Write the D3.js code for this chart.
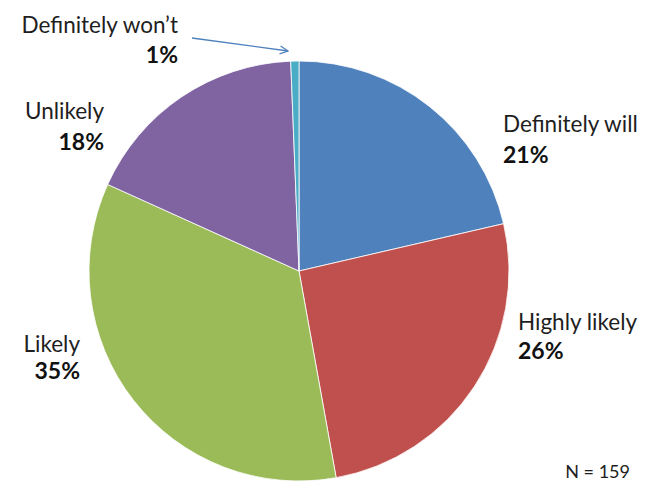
<!DOCTYPE html>
<html lang="en">
<head>
  <meta charset="utf-8">
  <title>Pie</title>
  <script src="https://d3js.org/d3.v7.min.js"></script>
  <style>
    body { margin: 0; background: #fff; }
  </style>
</head>
<body>
  <script type="text/javascript">
  // data, N = 159 respondents
  var categories = ["Definitely will", "Highly likely", "Likely", "Unlikely", "Definitely won\u2019t"];
  var counts = [34, 41, 55, 28, 1];
  var percentLabels = ["21%", "26%", "35%", "18%", "1%"];
  var colors = ["#4F81BD", "#C0504D", "#9BBB59", "#8064A2", "#4BACC6"];

  var w = 648;
  var h = 489;
  var cx = 299, cy = 271, r = 210;

  var svg = d3.select("body")
    .append("svg")
    .attr("width", w)
    .attr("height", h);

  var pie = d3.pie().sort(null).value(function(d){ return d; });
  var arc = d3.arc().innerRadius(0).outerRadius(r);

  var g = svg.append("g").attr("transform", "translate(" + cx + "," + cy + ")");
  g.selectAll("path")
    .data(pie(counts))
    .enter()
    .append("path")
    .attr("d", arc)
    .attr("fill", function(d, i){ return colors[i]; })
    .attr("stroke", "#fff")
    .attr("stroke-width", 0.8);

  // label positions (name baseline, anchor)
  var labelPos = [
    {x: 503, y: 132, anchor: "start"},
    {x: 518, y: 330, anchor: "start"},
    {x: 80, y: 352, anchor: "end"},
    {x: 104, y: 119, anchor: "end"},
    {x: 178, y: 33, anchor: "end"}
  ];
  var gap = [31, 29, 27, 31, 30];

  categories.forEach(function(c, i){
    var p = labelPos[i];
    svg.append("text")
      .attr("x", p.x)
      .attr("y", p.y)
      .attr("text-anchor", p.anchor)
      .attr("font-family", "Lato, 'Open Sans', sans-serif")
      .attr("font-size", "22.5px")
      .attr("fill", "#1e1e1e")
      .text(c);
    svg.append("text")
      .attr("x", p.x)
      .attr("y", p.y + gap[i])
      .attr("text-anchor", p.anchor)
      .attr("font-family", "Lato, 'Open Sans', sans-serif")
      .attr("font-size", "23px")
      .attr("font-weight", "bold")
      .attr("fill", "#111")
      .text(percentLabels[i]);
  });

  // leader arrow for the tiny slice
  svg.append("defs").append("marker")
    .attr("id", "arr")
    .attr("viewBox", "0 0 10 10")
    .attr("refX", 9)
    .attr("refY", 5)
    .attr("markerWidth", 10)
    .attr("markerHeight", 10)
    .attr("markerUnits", "userSpaceOnUse")
    .attr("orient", "auto")
    .append("path")
    .attr("d", "M1,1 L9,5 L1,9")
    .attr("fill", "none")
    .attr("stroke", "#4F81BD")
    .attr("stroke-width", 1.3);

  svg.append("line")
    .attr("x1", 192).attr("y1", 38)
    .attr("x2", 288).attr("y2", 51)
    .attr("stroke", "#4F81BD")
    .attr("stroke-width", 1.3)
    .attr("marker-end", "url(#arr)");

  svg.append("text")
    .attr("x", 630)
    .attr("y", 478)
    .attr("text-anchor", "end")
    .attr("font-family", "Lato, 'Open Sans', sans-serif")
    .attr("font-size", "18px")
    .attr("fill", "#1e1e1e")
    .text("N = 159");
  </script>
</body>
</html>
